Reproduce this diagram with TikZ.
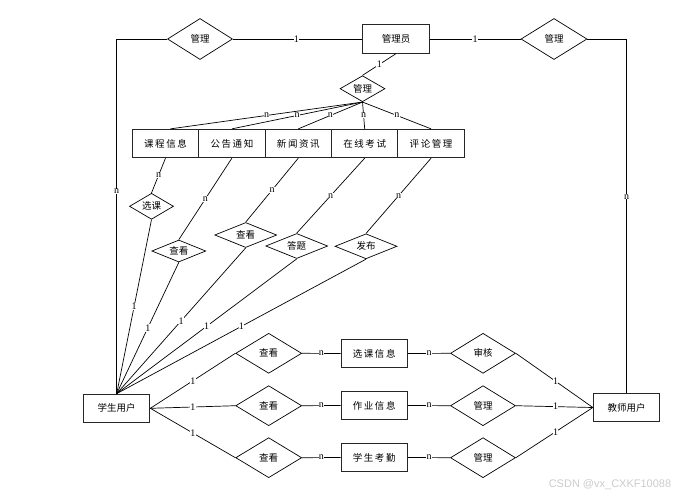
\documentclass[tikz,border=0pt]{standalone}
\usepackage{fontspec}
\setmainfont{Liberation Serif}
\newfontfamily\cjk{Noto Sans CJK SC}
\newfontfamily\wmfont{Liberation Sans}
\usetikzlibrary{shapes.geometric}
\begin{document}
\begin{tikzpicture}[x=1pt,y=-1pt,
  ent/.style={draw=black!85, line width=0.9pt, minimum width=66.4pt, minimum height=28.4pt, inner sep=0pt, font=\cjk\fontsize{9.5}{10}\selectfont},
  rel/.style n args={2}{diamond, draw, line width=0.7pt, inner sep=0pt, aspect=2, minimum width=#1pt, minimum height=#2pt, font=\cjk\fontsize{9.5}{10}\selectfont},
  lab/.style={font=\fontsize{10}{10}\selectfont, fill=white, inner sep=0.3pt},
  conn/.style={draw, line width=0.7pt}]
\useasboundingbox (0,0) rectangle (686,499);
\fill[white] (0,0) rectangle (686,499);

% top
\node[ent] (adm) at (396,39) {管理员};
\node[rel={65}{41}] (dL) at (200,39) {管理};
\node[rel={66}{41}] (dR) at (554,39) {管理};
\node[rel={45}{26}] (dM) at (362.5,88.7) {管理};

% entity row
\node[ent] (e1) at (165.5,143.5) {课\,程\,信\,息};
\node[ent] (e2) at (231.9,143.5) {公\,告\,通\,知};
\node[ent] (e3) at (298.3,143.5) {新\,闻\,资\,讯};
\node[ent] (e4) at (364.7,143.5) {在\,线\,考\,试};
\node[ent] (e5) at (431.1,143.5) {评\,论\,管\,理};

% relation diamonds below
\node[rel={44}{26}] (dA) at (151.5,206.3) {选课};
\node[rel={54}{22}] (dB) at (178.8,251) {查看};
\node[rel={62}{25}] (dC) at (245.7,235) {查看};
\node[rel={62}{25}] (dD) at (296.7,246) {答题};
\node[rel={62}{25}] (dE) at (366,246.3) {发布};

% users
\node[ent] (stu) at (116.7,408.3) {学生用户};
\node[ent] (tea) at (626.5,407.5) {教师用户};

% bottom rows
\node[rel={66}{40}] (v1) at (268.7,353.3) {查看};
\node[rel={66}{40}] (v2) at (268.7,405.7) {查看};
\node[rel={66}{40}] (v3) at (268.7,457.7) {查看};
\node[ent] (b1) at (374.2,353.5) {选\,课\,信\,息};
\node[ent] (b2) at (374.2,405.5) {作\,业\,信\,息};
\node[ent] (b3) at (374.2,457.5) {学\,生\,考\,勤};
\node[rel={65}{40}] (r1) at (483,353.3) {审核};
\node[rel={65}{40}] (r2) at (483,405.7) {管理};
\node[rel={65}{40}] (r3) at (483,457.7) {管理};

% corner coordinates
\coordinate (cL) at (stu.north |- dL.west);
\coordinate (cR) at (tea.north |- dR.east);

% connectors top
\draw[conn] (dL.east) -- node[lab,pos=0.49]{1} (adm.west);
\draw[conn] (adm.east) -- node[lab]{1} (dR.west);
\draw[conn] (dL.west) -- (cL) -- node[lab,pos=0.43]{n} (stu.north);
\draw[conn] (dR.east) -- (cR) -- node[lab,pos=0.446]{n} (tea.north);
\draw[conn] (adm.south) -- node[lab]{1} (dM.north);

\draw[conn] (dM.south) -- node[lab]{n} ([xshift=5pt]e1.north);
\draw[conn] (dM.south) -- node[lab]{n} (e2.north);
\draw[conn] (dM.south) -- node[lab]{n} (e3.north);
\draw[conn] (dM.south) -- node[lab]{n} (e4.north);
\draw[conn] (dM.south) -- node[lab]{n} (e5.north);

\draw[conn] (e1.south) -- node[lab]{n} (dA.north);
\draw[conn] (e2.south) -- node[lab]{n} (dB.north);
\draw[conn] (e3.south) -- node[lab]{n} (dC.north);
\draw[conn] (e4.south) -- node[lab]{n} (dD.north);
\draw[conn] (e5.south) -- node[lab]{n} (dE.north);

\draw[conn] (dA.south) -- node[lab]{1} (stu.north);
\draw[conn] (dB.south) -- node[lab]{1} (stu.north);
\draw[conn] (dC.south) -- node[lab]{1} (stu.north);
\draw[conn] (dD.south) -- node[lab]{1} (stu.north);
\draw[conn] (dE.south) -- node[lab]{1} (stu.north);

% bottom connectors
\foreach \i in {1,2,3}{
  \draw[conn] (stu.east) -- node[lab]{1} (v\i.west);
  \draw[conn] (v\i.east) -- node[lab]{n} (b\i.west);
  \draw[conn] (b\i.east) -- node[lab]{n} (r\i.west);
  \draw[conn] (r\i.east) -- node[lab,pos=0.515]{1} (tea.west);
}

% watermark
\node[font=\wmfont\fontsize{11}{11}\selectfont, text=black!20, inner sep=0pt] (wm) at (610,485) {CSDN @vx\_CXKF10088};
\end{tikzpicture}
\end{document}
